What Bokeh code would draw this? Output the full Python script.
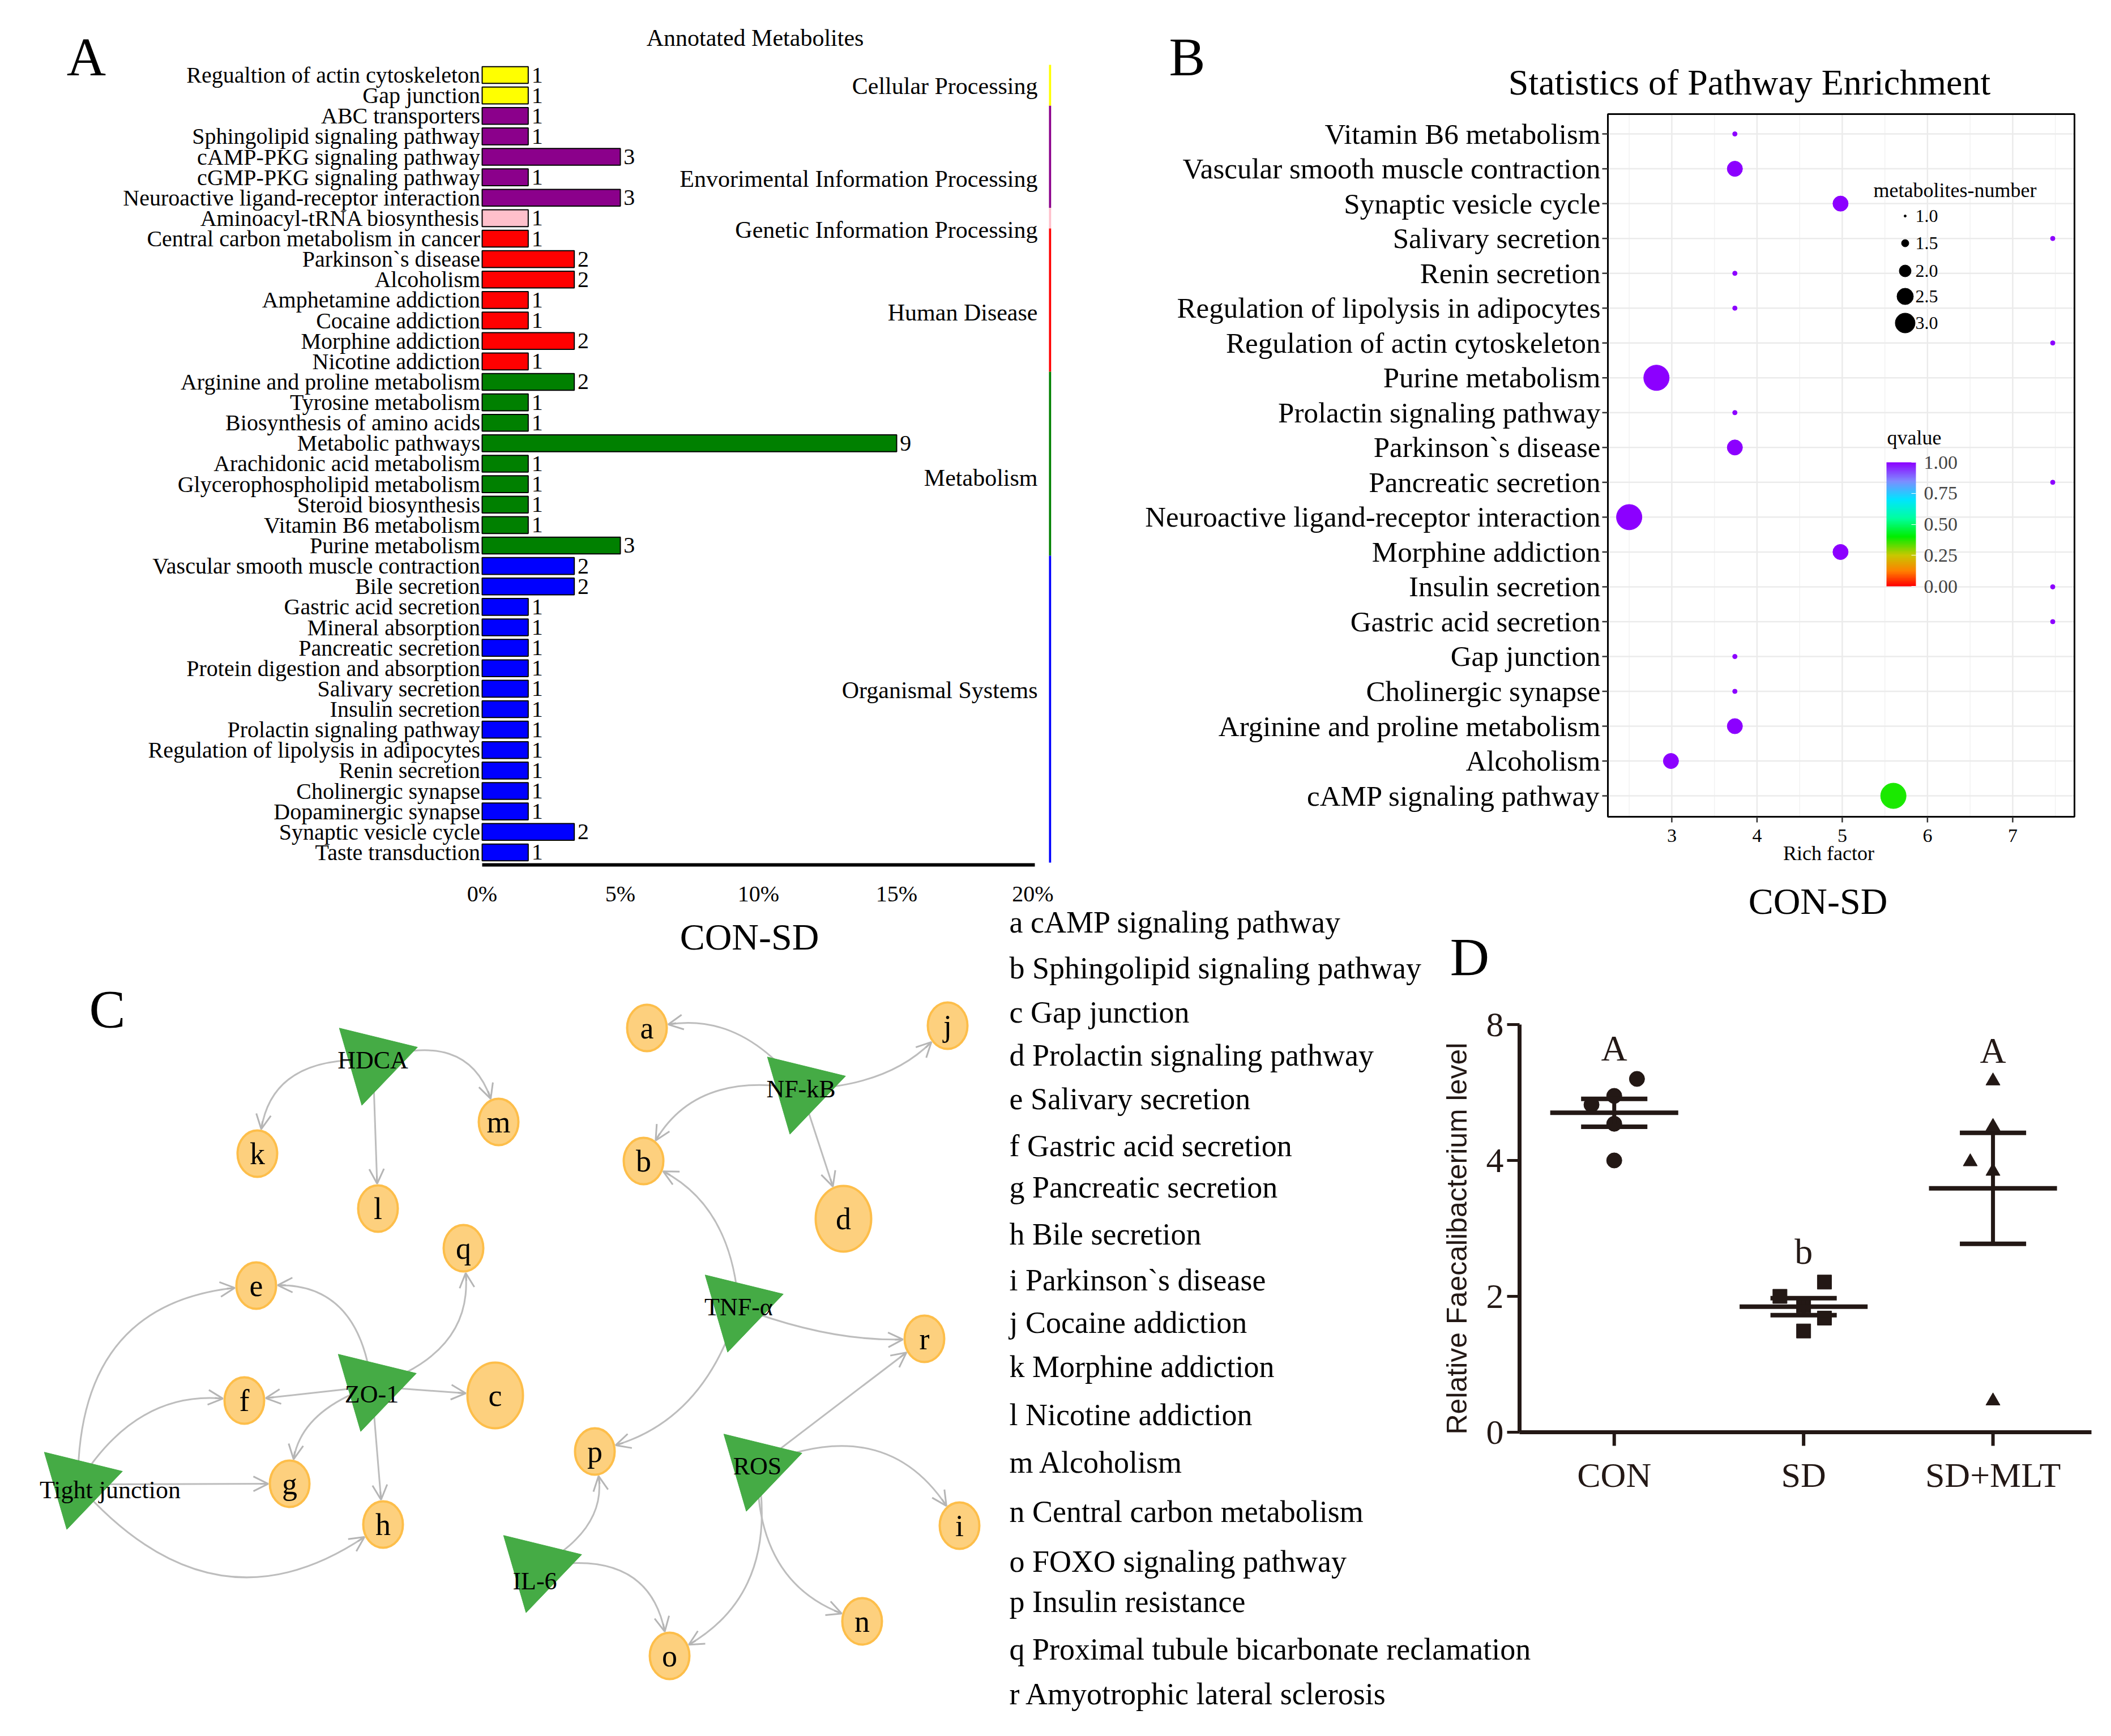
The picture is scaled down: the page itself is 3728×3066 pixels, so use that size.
import math
import numpy as np
from bokeh.plotting import figure
from bokeh.models import (Range1d, FixedTicker, ColumnDataSource, ColorBar,
                          LinearColorMapper, Arrow, OpenHead, PrintfTickFormatter)
from bokeh.layouts import row, column
from bokeh.core.properties import value
from bokeh.embed import file_html
from bokeh.resources import INLINE

SERIF = "Liberation Serif"
SANS = "Liberation Sans"
DARK = "#231815"

# ====================== DATA ======================
# ---- Panel A : annotated metabolites per KEGG pathway ----
a_pathways = [
    "Regualtion of actin cytoskeleton", "Gap junction", "ABC transporters",
    "Sphingolipid signaling pathway", "cAMP-PKG signaling pathway", "cGMP-PKG signaling pathway",
    "Neuroactive ligand-receptor interaction", "Aminoacyl-tRNA biosynthesis",
    "Central carbon metabolism in cancer", "Parkinson`s disease", "Alcoholism",
    "Amphetamine addiction", "Cocaine addiction", "Morphine addiction", "Nicotine addiction",
    "Arginine and proline metabolism", "Tyrosine metabolism", "Biosynthesis of amino acids",
    "Metabolic pathways", "Arachidonic acid metabolism", "Glycerophospholipid metabolism",
    "Steroid biosynthesis", "Vitamin B6 metabolism", "Purine metabolism",
    "Vascular smooth muscle contraction", "Bile secretion", "Gastric acid secretion",
    "Mineral absorption", "Pancreatic secretion", "Protein digestion and absorption",
    "Salivary secretion", "Insulin secretion", "Prolactin signaling pathway",
    "Regulation of lipolysis in adipocytes", "Renin secretion", "Cholinergic synapse",
    "Dopaminergic synapse", "Synaptic vesicle cycle", "Taste transduction",
]
a_counts = [1, 1, 1, 1, 3, 1, 3, 1, 1, 2, 2, 1, 1, 2, 1, 2, 1, 1, 9, 1, 1, 1, 1, 3,
            2, 2, 1, 1, 1, 1, 1, 1, 1, 1, 1, 1, 1, 2, 1]
a_groups = (["Cellular Processing"] * 2 + ["Envorimental Information Processing"] * 5 +
            ["Genetic Information Processing"] * 1 + ["Human Disease"] * 7 +
            ["Metabolism"] * 9 + ["Organismal Systems"] * 15)
a_total = 60
a_xticks = [0, 5, 10, 15, 20]
group_names = ["Cellular Processing", "Envorimental Information Processing",
               "Genetic Information Processing", "Human Disease", "Metabolism",
               "Organismal Systems"]
group_colors = ["#FFFF00", "#8B008B", "#FFC0CB", "#FF0000", "#008000", "#0000FF"]

# ---- Panel B : pathway enrichment ----
b_pathways = [
    "Vitamin B6 metabolism", "Vascular smooth muscle contraction", "Synaptic vesicle cycle",
    "Salivary secretion", "Renin secretion", "Regulation of lipolysis in adipocytes",
    "Regulation of actin cytoskeleton", "Purine metabolism", "Prolactin signaling pathway",
    "Parkinson`s disease", "Pancreatic secretion", "Neuroactive ligand-receptor interaction",
    "Morphine addiction", "Insulin secretion", "Gastric acid secretion", "Gap junction",
    "Cholinergic synapse", "Arginine and proline metabolism", "Alcoholism",
    "cAMP signaling pathway",
]
b_rich = [3.74, 3.74, 4.98, 7.47, 3.74, 3.74, 7.47, 2.82, 3.74, 3.74, 7.47, 2.50,
          4.98, 7.47, 7.47, 3.74, 3.74, 3.74, 2.99, 5.60]
b_count = [1, 2, 2, 1, 1, 1, 1, 3, 1, 2, 1, 3, 2, 1, 1, 1, 1, 2, 2, 3]
b_qvalue = [1, 1, 1, 1, 1, 1, 1, 1, 1, 1, 1, 1, 1, 1, 1, 1, 1, 1, 1, 0.38]
b_xticks = [3, 4, 5, 6, 7]
b_xminor = [2.5, 3.5, 4.5, 5.5, 6.5, 7.5]
b_size_legend = [1.0, 1.5, 2.0, 2.5, 3.0]
b_q_ticks = [0, 0.25, 0.5, 0.75, 1.0]

# ---- Panel C : network ----
node_names = ["HDCA", "NF-kB", "ZO-1", "Tight junction", "TNF-\u03b1", "ROS", "IL-6",
              "a", "b", "c", "d", "e", "f", "g", "h", "i", "j", "k", "l", "m", "n",
              "o", "p", "q", "r"]
node_x = [666, 1422, 664, 145, 1312, 1345, 956,
          1150, 1144, 882, 1497, 460, 439, 519, 684, 1702, 1681, 462, 675, 888, 1530,
          1190, 1058, 826, 1640]
node_y = [1880, 1931, 2456, 2629, 2316, 2597, 2776,
          1823, 2058, 2472, 2160, 2278, 2481, 2628, 2700, 2702, 1819, 2045, 2142, 1989, 2871,
          2932, 2571, 2212, 2372]
regulators = ["HDCA", "NF-kB", "ZO-1", "Tight junction", "TNF-\u03b1", "ROS", "IL-6"]
big_nodes = ["c", "d"]
edge_src = ["HDCA", "HDCA", "HDCA", "NF-kB", "NF-kB", "NF-kB", "NF-kB",
            "TNF-\u03b1", "TNF-\u03b1", "TNF-\u03b1", "ROS", "ROS", "ROS", "ROS", "IL-6", "IL-6",
            "ZO-1", "ZO-1", "ZO-1", "ZO-1", "ZO-1", "ZO-1",
            "Tight junction", "Tight junction", "Tight junction", "Tight junction"]
edge_dst = ["k", "l", "m", "a", "j", "b", "d",
            "b", "p", "r", "r", "i", "n", "o", "p", "o",
            "e", "q", "f", "c", "g", "h",
            "e", "f", "g", "h"]
edge_bend = [-0.45, 0.0, 0.5, -0.3, -0.2, -0.35, 0.0,
             -0.28, 0.27, -0.1, 0.0, 0.42, -0.35, 0.35, -0.35, 0.5,
             -0.45, -0.4, 0.0, 0.0, -0.3, 0.0,
             0.45, 0.31, 0.0, -0.44]
key_letters = list("abcdefghijklmnopqr")
key_texts = ["cAMP signaling pathway", "Sphingolipid signaling pathway", "Gap junction",
             "Prolactin signaling pathway", "Salivary secretion", "Gastric acid secretion",
             "Pancreatic secretion", "Bile secretion", "Parkinson`s disease",
             "Cocaine addiction", "Morphine addiction", "Nicotine addiction", "Alcoholism",
             "Central carbon metabolism", "FOXO signaling pathway", "Insulin resistance",
             "Proximal tubule bicarbonate reclamation", "Amyotrophic lateral sclerosis"]

# ---- Panel D : Faecalibacterium ----
d_groups = ["CON", "SD", "SD+MLT"]
d_con = [5.20, 4.95, 4.82, 4.54, 4.00]
d_sd = [2.21, 2.00, 1.86, 1.68, 1.49]
d_mlt = [5.17, 4.50, 3.98, 3.84, 0.46]
d_letters = ["A", "b", "A"]
d_yticks = [0, 2, 4, 6]
d_ytick_labels = ["0", "2", "4", "8"]

# ====================== LAYOUT CONSTANTS (page pixels) ======================
TOP_END = 1660      # bottom edge of the top row figures
BOT_START = 1593    # top edge of the bottom row figures (rows overlap, transparent)
D_OVER = 420        # panel D figure reaches this far left under the key (transparent)
A_cat_label_rows = [0.55, 5.09, 7.56, 11.62, 19.68, 30.06]
key_line_y = [1636, 1717, 1795, 1871, 1948, 2031, 2104, 2187, 2268, 2343, 2421, 2506,
              2590, 2677, 2765, 2836, 2920, 2999]
label_offsets = {"Tight junction": (57, 10), "ZO-1": (0, 14), "IL-6": (-4, 24)}
d_dx = [[0.12, 0.0, -0.12, 0.0, 0.0], [0.11, -0.125, 0.0, 0.11, 0.0], [0.0, 0.0, -0.12, 0.0, 0.0]]
d_markers = ["circle", "square", "triangle"]
d_msize = [27, 25, 25]


def base_fig(**kw):
    return figure(toolbar_location=None, output_backend="svg", **kw)


def blank_fig(xr, yr, w, h):
    p = base_fig(width=int(w), height=int(h), x_range=Range1d(*xr), y_range=Range1d(*yr),
                 x_axis_location=None, y_axis_location=None, min_border=0)
    p.grid.visible = False
    p.outline_line_color = None
    p.background_fill_color = None
    p.border_fill_color = None
    return p


def lin(p0, p1, v0, v1):
    """map page pixel -> data value, given two reference pixels and their data values"""
    return lambda px: v0 + (px - p0) / (p1 - p0) * (v1 - v0)


def txt(p, x, y, text, size, align="center", baseline="middle", font=SERIF, color="black",
        angle=0):
    p.text(x=x if isinstance(x, list) else [x], y=y if isinstance(y, list) else [y],
           text=text if isinstance(text, list) else [text], text_font=value(font),
           text_font_size=size, text_align=align, text_baseline=baseline,
           text_color=color, angle=angle)


# ====================== PANEL A ======================
# page geometry: figure x 8..1868, y 8..TOP_END ; bars start at x=859, x axis at y=1535
ax = lin(859, 859 + 48.8, 0, 1)          # % scale
ay = lin(140, 140 + 36.13, 0, 1)         # row scale (row 0 centre at y=140)
pA = base_fig(width=1860, height=TOP_END - 8, x_range=Range1d(ax(8), ax(1864)),
              y_range=Range1d(ay(1535), ay(8)), min_border_left=0, min_border_right=4,
              min_border_top=0, min_border_bottom=TOP_END - 1535)
rowsA = list(range(len(a_pathways)))
pctA = [c / a_total * 100.0 for c in a_counts]
colA = [group_colors[group_names.index(g)] for g in a_groups]
srcA = ColumnDataSource(dict(y=rowsA, right=pctA, color=colA,
                             lab=[str(c) for c in a_counts], lx=[v + 0.12 for v in pctA]))
pA.hbar(y="y", left=0, right="right", height=0.82, fill_color="color", line_color="black",
        line_width=2, source=srcA)
pA.text(x="lx", y="y", text="lab", source=srcA, text_font=value(SERIF), text_font_size="40px",
        text_baseline="middle", text_align="left", text_color="black")
txt(pA, [-0.07] * len(a_pathways), rowsA, a_pathways, "40px", align="right")
seg = dict(x=[], y0=[], y1=[], color=[])
for g, c in zip(group_names, group_colors):
    idx = [i for i, gg in enumerate(a_groups) if gg == g]
    seg["x"].append(ax(1862))
    seg["y0"].append(min(idx) - 0.5)
    seg["y1"].append(max(idx) + 0.5)
    seg["color"].append(c)
pA.segment(x0="x", x1="x", y0="y0", y1="y1", line_color="color", line_width=4,
           source=ColumnDataSource(seg))
txt(pA, [ax(1840)] * len(group_names), A_cat_label_rows, group_names, "42px", align="right")
txt(pA, ax(160), ay(108), "A", "96px")
txt(pA, ax(1341), ay(74), "Annotated Metabolites", "42px")
pA.grid.visible = False
pA.outline_line_color = None
pA.yaxis.visible = False
pA.xaxis.ticker = FixedTicker(ticks=a_xticks)
pA.xaxis.major_label_overrides = {t: "%d%%" % t for t in a_xticks}
pA.xaxis.bounds = (0, 20)
pA.xaxis.axis_line_width = 6
pA.xaxis.axis_line_color = "black"
pA.xaxis.major_tick_line_color = None
pA.xaxis.minor_tick_line_color = None
pA.xaxis.major_label_standoff = 22
pA.xaxis.major_label_text_font = SERIF
pA.xaxis.major_label_text_font_size = "40px"
pA.xaxis.major_label_text_color = "black"

# ====================== PANEL B ======================
# page geometry: figure x 1868..3720, y 8..TOP_END ; panel x 2847..3671, y 209..1450
B_l, B_r, B_t, B_b = 2847, 3671, 209, 1450
Bx0, Bx1, By_top, By_bot = 2.25, 7.725, -0.57, 19.6
bx = lin(B_l, B_r, Bx0, Bx1)
by = lin(B_t, B_b, By_top, By_bot)
pB = blank_fig((bx(1868), bx(3720)), (by(TOP_END), by(8)), 1852, TOP_END - 8)

stops = [0.0, 0.12, 0.25, 0.40, 0.55, 0.70, 0.85, 1.0]
stop_cols = ["#FF0000", "#FF7F00", "#C8C800", "#00EE00", "#00FFA0", "#00E5FF", "#7F8CFF", "#8C00FF"]


def hex2rgb(h):
    return [int(h[i:i + 2], 16) for i in (1, 3, 5)]


palette = []
for t in np.linspace(0, 1, 256):
    k = max(i for i in range(len(stops) - 1) if stops[i] <= t) if t < 1 else len(stops) - 2
    f = (t - stops[k]) / (stops[k + 1] - stops[k])
    c0, c1 = hex2rgb(stop_cols[k]), hex2rgb(stop_cols[k + 1])
    palette.append("#%02x%02x%02x" % tuple(int(round(a + (b - a) * f)) for a, b in zip(c0, c1)))
mapper = LinearColorMapper(palette=palette, low=0, high=1)

rowsB = list(range(len(b_pathways)))
# grid
pB.quad(left=[Bx0], right=[Bx1], top=[By_top], bottom=[By_bot], fill_color="white",
        line_color=None)
pB.segment(x0=b_xminor, x1=b_xminor, y0=[By_top] * len(b_xminor), y1=[By_bot] * len(b_xminor),
           line_color="#F2F2F2", line_width=1.5)
pB.segment(x0=b_xticks, x1=b_xticks, y0=[By_top] * len(b_xticks), y1=[By_bot] * len(b_xticks),
           line_color="#EBEBEB", line_width=2.5)
pB.segment(x0=[Bx0] * len(rowsB), x1=[Bx1] * len(rowsB), y0=rowsB, y1=rowsB,
           line_color="#EBEBEB", line_width=2.5)
# points
size_px = {1: 8, 2: 27, 3: 45}
srcB = ColumnDataSource(dict(x=b_rich, y=rowsB, q=b_qvalue, s=[size_px[c] for c in b_count]))
pB.scatter(x="x", y="y", size="s", fill_color={"field": "q", "transform": mapper},
           line_color={"field": "q", "transform": mapper}, source=srcB)
# panel border
pB.quad(left=[Bx0], right=[Bx1], top=[By_top], bottom=[By_bot], fill_color=None,
        line_color="black", line_width=3)
# y axis ticks + labels
pB.segment(x0=[Bx0] * len(rowsB), x1=[bx(B_l - 10)] * len(rowsB), y0=rowsB, y1=rowsB,
           line_color="#333333", line_width=2.5)
txt(pB, [bx(B_l - 13)] * len(rowsB), rowsB, b_pathways, "51px", align="right")
# x axis ticks + labels
pB.segment(x0=b_xticks, x1=b_xticks, y0=[By_bot] * 5, y1=[by(B_b + 10)] * 5,
           line_color="#333333", line_width=2.5)
txt(pB, b_xticks, [by(1483)] * 5, [str(t) for t in b_xticks], "34px")
txt(pB, bx(3237), by(1514), "Rich factor", "36px")
# size legend
leg_py = [389, 437, 486, 531, 578]
leg_sz = [4, 13, 21, 29, 35]
pB.scatter(x=[bx(3372)] * 5, y=[by(v) for v in leg_py], size=leg_sz, color="black")
txt(pB, [bx(3390)] * 5, [by(v) for v in leg_py], ["%.1f" % v for v in b_size_legend], "32px",
    align="left")
txt(pB, bx(3460), by(343), "metabolites-number", "36px")
# colour bar
txt(pB, bx(3340), by(780), "qvalue", "36px", align="left")
cb = ColorBar(color_mapper=mapper, location=(3339 - 1868, TOP_END - 1043), width=52, height=219,
              padding=0, title=None, ticker=FixedTicker(ticks=b_q_ticks),
              formatter=PrintfTickFormatter(format="%.2f"),
              major_label_text_font=SERIF, major_label_text_font_size="34px",
              label_standoff=14, major_tick_line_color="white", major_tick_in=8,
              major_tick_out=0, bar_line_color=None, background_fill_alpha=0,
              border_line_color=None)
pB.add_layout(cb)
txt(pB, bx(2104), by(108), "B", "96px")
txt(pB, bx(3097), by(153), "Statistics of Pathway Enrichment", "64px")
txt(pB, bx(3218), by(1599), "CON-SD", "66px")

# ====================== PANEL C ======================
pC = blank_fig((8, 1788), (3058, BOT_START), 1780, 3058 - BOT_START)
pos = {n: (x, y) for n, x, y in zip(node_names, node_x, node_y)}


def semi_axes(n):
    return (49, 58) if n in big_nodes else (35, 41)


E = dict(x0=[], y0=[], x1=[], y1=[], cx=[], cy=[])
AR = dict(xs=[], ys=[], xe=[], ye=[])
for s, t, bnd in zip(edge_src, edge_dst, edge_bend):
    x0, y0 = pos[s]
    x2, y2 = pos[t]
    dx, dy = x2 - x0, y2 - y0
    L = math.hypot(dx, dy)
    nx, ny = dy / L, -dx / L
    cx = (x0 + x2) / 2 + bnd * L * nx
    cy = (y0 + y2) / 2 + bnd * L * ny
    tx, ty = x2 - cx, y2 - cy
    tl = math.hypot(tx, ty)
    ux, uy = tx / tl, ty / tl
    sa, sb = semi_axes(t)
    r = sa * sb / math.sqrt((sb * ux) ** 2 + (sa * uy) ** 2) + 3
    ex, ey = x2 - r * ux, y2 - r * uy
    E["x0"].append(x0); E["y0"].append(y0); E["x1"].append(ex); E["y1"].append(ey)
    E["cx"].append(cx); E["cy"].append(cy)
    AR["xs"].append(ex - 14 * ux); AR["ys"].append(ey - 14 * uy)
    AR["xe"].append(ex); AR["ye"].append(ey)
pC.quadratic(x0="x0", y0="y0", x1="x1", y1="y1", cx="cx", cy="cy", line_color="#BDBDBD",
             line_width=3, source=ColumnDataSource(E))
pC.add_layout(Arrow(end=OpenHead(size=26, line_color="#B5B5B5", line_width=3),
                    x_start="xs", y_start="ys", x_end="xe", y_end="ye",
                    line_color="#B5B5B5", line_width=3, source=ColumnDataSource(AR)))
circ = [n for n in node_names if n not in regulators]
pC.ellipse(x=[pos[n][0] for n in circ], y=[pos[n][1] for n in circ],
           width=[2 * semi_axes(n)[0] for n in circ], height=[2 * semi_axes(n)[1] for n in circ],
           fill_color="#FDD07E", line_color="#FDBE4A", line_width=4)
txt(pC, [pos[n][0] for n in circ], [pos[n][1] for n in circ], circ, "54px")
pC.scatter(x=[pos[n][0] for n in regulators], y=[pos[n][1] for n in regulators],
           marker="inverted_triangle", size=142, angle=-0.24, fill_color="#45AB45",
           line_color="#45AB45", line_width=1)
txt(pC, [pos[n][0] + label_offsets.get(n, (0, 0))[0] for n in regulators],
    [pos[n][1] + label_offsets.get(n, (0, 0))[1] for n in regulators], regulators, "44px")
txt(pC, 197, 1790, "C", "96px")
txt(pC, 1331, 1662, "CON-SD", "66px")

# ====================== KEY (a..r) ======================
key_lines = ["%s %s" % (k, t) for k, t in zip(key_letters, key_texts)]
split = 13
pL1 = blank_fig((1788, 2558), (2648, BOT_START), 770, 2648 - BOT_START)
txt(pL1, [1790] * split, key_line_y[:split], key_lines[:split], "54px", align="left")
pL2 = blank_fig((1788, 3720), (3058, 2648), 1932, 410)
txt(pL2, [1790] * (len(key_lines) - split), key_line_y[split:], key_lines[split:], "54px",
    align="left")

# ====================== PANEL D ======================
# page geometry: figure x (2558-D_OVER)..3720, y BOT_START..2648 ; axes: x 2691..3701 at y=2537
D_l, D_r, D_b, D_t = 2691, 3701, 2537, 1817
Dx0, Dx1 = -0.5, 2.52
dxp = lin(D_l, D_r, Dx0, Dx1)
dyp = lin(D_b, D_t, 0, 6)
pD = blank_fig((dxp(2558 - D_OVER), dxp(3720)), (dyp(2648), dyp(BOT_START)),
               1162 + D_OVER, 2648 - BOT_START)
d_vals = [d_con, d_sd, d_mlt]
mean_seg = dict(x0=[], x1=[], y=[])
cap_seg = dict(x0=[], x1=[], y=[])
vert = dict(x=[], y0=[], y1=[])
for gi, vals in enumerate(d_vals):
    v = np.array(vals)
    m = v.mean()
    se = v.std(ddof=1) / math.sqrt(len(v))
    pD.scatter(x=[gi + o for o in d_dx[gi]], y=vals, marker=d_markers[gi], size=d_msize[gi],
               color=DARK)
    mean_seg["x0"].append(gi - 0.338); mean_seg["x1"].append(gi + 0.338); mean_seg["y"].append(m)
    for yy in (m - se, m + se):
        cap_seg["x0"].append(gi - 0.175); cap_seg["x1"].append(gi + 0.175); cap_seg["y"].append(yy)
    vert["x"].append(gi); vert["y0"].append(m - se); vert["y1"].append(m + se)
pD.segment(x0="x", x1="x", y0="y0", y1="y1", line_color=DARK, line_width=7,
           source=ColumnDataSource(vert))
pD.segment(x0="x0", x1="x1", y0="y", y1="y", line_color=DARK, line_width=8,
           source=ColumnDataSource(mean_seg))
pD.segment(x0="x0", x1="x1", y0="y", y1="y", line_color=DARK, line_width=8,
           source=ColumnDataSource(cap_seg))
txt(pD, [0, 1, 2], [max(v) + 0.45 for v in d_vals], d_letters, "64px", color=DARK)
# axes
pD.segment(x0=[Dx0, Dx0], x1=[Dx1, Dx0], y0=[0, 0], y1=[0, d_yticks[-1]], line_color=DARK,
           line_width=7)
pD.segment(x0=[dxp(D_l - 22)] * 4, x1=[Dx0] * 4, y0=d_yticks, y1=d_yticks, line_color=DARK,
           line_width=5)
pD.segment(x0=[0, 1, 2], x1=[0, 1, 2], y0=[0] * 3, y1=[dyp(D_b + 24)] * 3, line_color=DARK,
           line_width=6)
txt(pD, [dxp(D_l - 28)] * 4, d_yticks, d_ytick_labels, "62px", align="right", color=DARK)
txt(pD, [0, 1, 2], [dyp(2612)] * 3, d_groups, "62px", color=DARK)
txt(pD, dxp(2580), dyp(2195), "Relative Faecalibacterium level", "50px", font=SANS, color=DARK,
    angle=math.pi / 2)
txt(pD, dxp(2603), dyp(1698), "D", "96px")

colD = column(pD)
colD.margin = (0, 0, 0, -D_OVER)
top_row = row(column(pA), column(pB))
bottom_row = row(column(pC), column(row(column(pL1), colD), column(pL2)))
bottom_row.margin = (BOT_START - TOP_END, 0, 0, 0)   # let the two rows overlap (transparent)
layout = column(top_row, bottom_row)
open("out.html", "w").write(file_html(layout, INLINE, title="Figure"))
